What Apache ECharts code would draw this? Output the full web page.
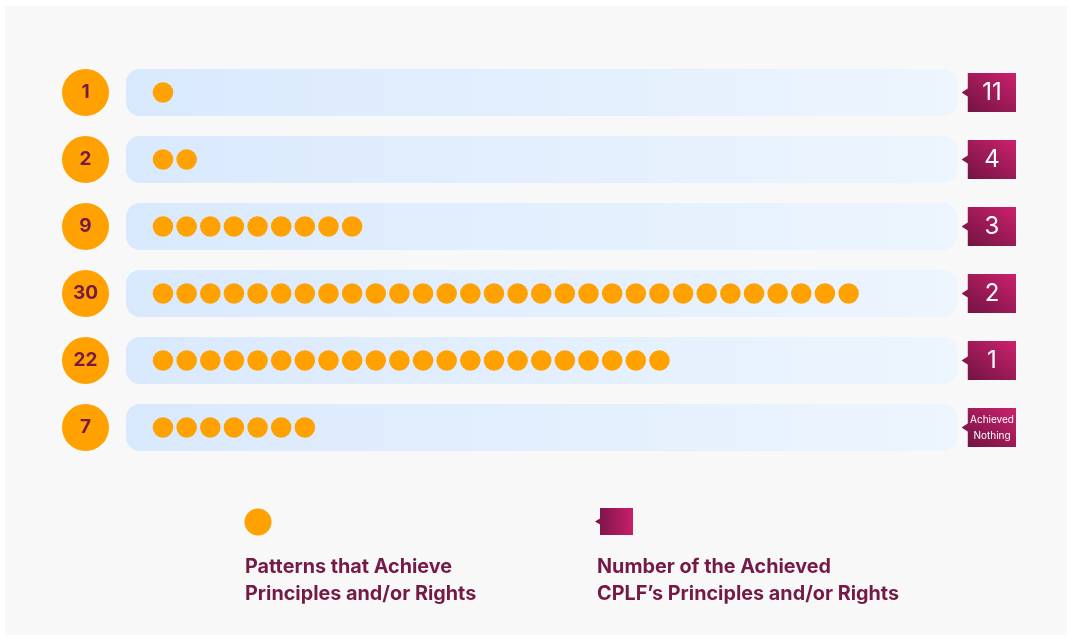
<!DOCTYPE html>
<html>
<head>
<meta charset="utf-8">
<script src="https://cdn.jsdelivr.net/npm/echarts@6/dist/echarts.min.js"></script>
<style>
    html, body { margin: 0; padding: 0; background: #ffffff; }
    #main { width: 1072px; height: 640px; }
</style>
</head>
<body>
<div id="main"></div>
<script>
// 行标签 / 每行圆点数量 / 右侧标签
var rowLabels = ['1', '2', '9', '30', '22', '7'];
var dotCounts = [1, 2, 9, 30, 22, 7];
var tagLabels = ['11', '4', '3', '2', '1', 'Achieved\nNothing'];
var legendNames = ['Patterns that Achieve\nPrinciples and/or Rights', 'Number of the Achieved\nCPLF\u2019s Principles and/or Rights'];

var textColor = '#741a47';
var orange = '#ffa100';
var tagPath = 'path://M6,0 L54,0 L54,39 L6,39 L6,23.5 L0.5,20 Q0,19.5 0.5,19 L6,15.5 Z';

function tagGradient(){
    return new echarts.graphic.LinearGradient(0, 1, 1, 0, [
        {offset: 0, color: '#6c1341'},
        {offset: 1, color: '#cc216c'}
    ]);
}

var myChart = echarts.init(document.getElementById('main'));

var gridTop = 59, gridHeight = 402;
var unit = 23.64;   //每个圆点占用的宽度

function catAxis(idx, showLabel){
    return {
        type: 'category',
        gridIndex: idx,
        inverse: true,
        data: rowLabels,
        axisLine: {show: false},
        axisTick: {show: false},
        splitLine: {show: false},
        axisLabel: showLabel ? {
            show: true,
            margin: 17,
            formatter: function(v){ return '{c|' + v + '}'; },
            rich: {
                c: {
                    width: 47,
                    height: 47,
                    lineHeight: 47,
                    borderRadius: 23.5,
                    backgroundColor: orange,
                    align: 'center',
                    color: textColor,
                    fontFamily: 'Inter',
                    fontWeight: 'bold',
                    fontSize: 19
                }
            }
        } : {show: false}
    };
}

function valAxis(idx, max){
    return {
        type: 'value',
        gridIndex: idx,
        min: 0,
        max: max,
        show: false
    };
}

var dotLeft = 163 - unit / 2;

var option = {
    backgroundColor: '#ffffff',
    animation: false,
    graphic: [
        {type: 'rect', z: -10, shape: {x: 5, y: 6, width: 1062, height: 629}, style: {fill: '#f8f8f8'}},
        //图例
        {type: 'circle', shape: {cx: 258, cy: 522, r: 13.5}, style: {fill: orange}},
        {type: 'text', x: 245, y: 554, style: {text: legendNames[0], fill: textColor, font: 'bold 19.8px Inter', lineHeight: 27}},
        {type: 'polygon', shape: {points: [[600, 508], [633, 508], [633, 535], [600, 535], [600, 524.5], [595, 521.5], [600, 518.5]]},
            style: {fill: new echarts.graphic.LinearGradient(0, 0, 1, 0, [
                {offset: 0, color: '#741547'},
                {offset: 1, color: '#c81f68'}
            ])}},
        {type: 'text', x: 597, y: 554, style: {text: legendNames[1], fill: textColor, font: 'bold 19.8px Inter', lineHeight: 27}}
    ],
    grid: [
        {left: 126, right: 115, top: gridTop, height: gridHeight},
        {left: dotLeft, width: unit * 30, top: gridTop, height: gridHeight},
        {left: 962, width: 54, top: gridTop, height: gridHeight}
    ],
    xAxis: [valAxis(0, 1), valAxis(1, 30), valAxis(2, 1)],
    yAxis: [catAxis(0, true), catAxis(1, false), catAxis(2, false)],
    series: [
        {
            //背景条
            type: 'bar',
            xAxisIndex: 0,
            yAxisIndex: 0,
            barWidth: 47,
            silent: true,
            z: 1,
            data: rowLabels.map(function(){ return 1; }),
            itemStyle: {
                borderRadius: 14,
                color: new echarts.graphic.LinearGradient(0, 0, 1, 0, [
                    {offset: 0, color: '#d9e9fd'},
                    {offset: 1, color: '#edf5fe'}
                ])
            }
        },
        {
            //圆点
            type: 'pictorialBar',
            xAxisIndex: 1,
            yAxisIndex: 1,
            z: 10,
            symbol: 'circle',
            symbolSize: [20.5, 20.5],
            symbolRepeat: true,
            symbolMargin: '1.57!',
            barWidth: 20.5,
            data: dotCounts,
            itemStyle: {color: orange, opacity: 1}
        },
        {
            //右侧标签
            type: 'scatter',
            xAxisIndex: 2,
            yAxisIndex: 2,
            symbol: tagPath,
            symbolSize: [54, 39],
            silent: true,
            data: tagLabels.map(function(t, i){ return [0.5, rowLabels[i]]; }),
            itemStyle: {color: tagGradient(), opacity: 1},
            label: {
                show: true,
                position: 'inside',
                offset: [3, 0],
                color: '#ffffff',
                fontFamily: 'Inter',
                formatter: function(p){
                    var t = tagLabels[p.dataIndex];
                    return t.length > 3 ? '{s|' + t + '}' : t;
                },
                fontSize: 24,
                rich: {
                    s: {fontSize: 10, lineHeight: 16, color: '#ffffff', fontFamily: 'Inter', align: 'center'}
                }
            }
        }
    ]
};
myChart.setOption(option);
</script>
</body>
</html>
